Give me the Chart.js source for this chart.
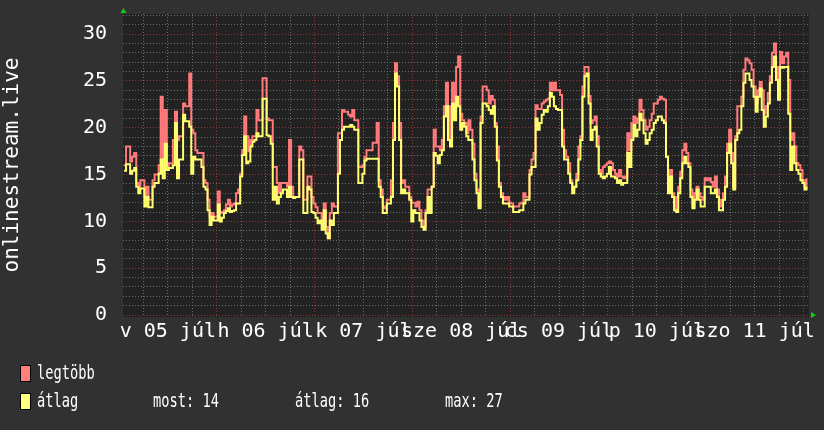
<!DOCTYPE html>
<html>
<head>
<meta charset="utf-8">
<script src="https://cdn.jsdelivr.net/npm/chart.js@4.4.1/dist/chart.umd.min.js"></script>
<style>
  html, body { margin: 0; padding: 0; background: #313131; }
  canvas { display: block; }
</style>
</head>
<body>
<canvas id="streamChart" width="824" height="430"></canvas>
<script>
// 30 perces minták, 2020 júl 05 01:15-től
const startHour = 1.25;
const stepHours = 0.5;

const maxValues = [
  16.0, 18.0, 18.0, 16.4, 16.9, 17.3, 14.1, 13.7, 14.4, 14.4,
  12.6, 13.7, 12.3, 12.3, 14.4, 15.0, 15.0, 16.0, 23.3, 16.6,
  21.9, 15.8, 16.2, 16.2, 18.7, 21.7, 18.7, 19.1, 19.1, 22.6,
  22.3, 22.3, 25.8, 19.8, 19.4, 17.6, 17.3, 17.3, 17.3, 14.4,
  14.1, 12.3, 10.5, 10.9, 10.5, 10.5, 13.2, 10.9, 11.0, 11.2,
  11.8, 12.3, 11.6, 11.8, 11.9, 13.0, 13.4, 15.1, 17.6, 21.2,
  19.1, 17.5, 18.7, 19.1, 19.1, 21.9, 20.8, 20.8, 25.3, 25.3,
  21.0, 20.8, 20.8, 15.8, 15.8, 14.1, 13.0, 14.1, 14.1, 14.1,
  13.7, 18.7, 13.7, 12.6, 12.6, 12.6, 18.0, 17.6, 12.3, 12.3,
  14.8, 14.8, 12.6, 11.9, 11.5, 10.9, 10.9, 10.1, 11.9, 9.4,
  8.2, 10.9, 11.9, 11.6, 11.6, 19.4, 19.4, 21.9, 21.7, 21.7,
  21.4, 21.2, 21.9, 20.8, 20.8, 15.8, 15.8, 16.0, 16.9, 17.6,
  17.6, 17.6, 18.4, 18.4, 20.5, 14.4, 13.4, 11.6, 11.4, 12.3,
  12.3, 14.4, 20.5, 26.9, 25.5, 20.5, 14.1, 14.4, 13.7, 13.7,
  12.6, 12.0, 12.0, 11.6, 12.1, 11.2, 10.1, 9.4, 11.2, 13.4,
  13.4, 13.7, 19.8, 18.0, 18.0, 17.6, 18.7, 22.3, 24.8, 22.3,
  18.7, 24.8, 21.9, 26.5, 27.6, 21.5, 20.8, 20.5, 19.4, 20.8,
  19.8, 18.3, 15.1, 13.4, 11.6, 21.2, 24.4, 24.4, 24.0, 22.6,
  23.4, 23.0, 20.5, 18.0, 14.1, 13.0, 12.6, 12.3, 12.6, 12.0,
  11.9, 11.6, 11.6, 11.6, 11.9, 12.0, 13.0, 12.6, 12.6, 15.5,
  16.6, 17.3, 22.4, 22.0, 22.0, 22.6, 22.8, 23.0, 23.1, 24.8,
  24.0, 24.8, 24.0, 24.0, 23.5, 19.8, 17.6, 16.9, 16.2, 14.4,
  13.4, 13.7, 15.1, 18.0, 19.1, 24.4, 26.5, 26.5, 23.4, 20.5,
  20.8, 21.2, 19.1, 15.5, 15.1, 15.8, 16.0, 16.2, 16.4, 16.2,
  15.5, 15.1, 14.8, 15.5, 14.8, 14.6, 14.8, 19.4, 17.6, 20.5,
  21.2, 20.5, 21.0, 23.0, 21.9, 20.8, 19.8, 20.1, 20.8, 21.5,
  22.6, 22.6, 23.0, 23.3, 23.1, 23.0, 16.9, 13.4, 15.5, 13.0,
  11.2, 12.6, 13.7, 15.3, 17.6, 18.3, 17.3, 16.2, 13.4, 11.6,
  13.0, 13.7, 13.0, 12.6, 12.3, 14.6, 14.4, 14.6, 14.2, 13.7,
  14.8, 13.4, 11.6, 12.3, 13.0, 14.8, 18.3, 19.8, 17.3, 13.7,
  19.1, 22.3, 22.3, 23.3, 26.2, 27.4, 27.2, 26.9, 26.2, 24.4,
  22.6, 24.0, 24.9, 24.0, 21.5, 22.3, 23.7, 25.5, 28.0, 29.0,
  26.5, 25.1, 28.1, 26.9, 27.6, 28.0, 25.1, 18.7, 19.4, 18.0,
  16.2, 16.0, 15.5, 14.4, 13.7, 14.6
];

const avgValues = [
  15.4, 16.1, 16.1, 15.1, 15.4, 15.7, 13.7, 13.0, 13.5, 13.5,
  11.6, 12.6, 11.5, 11.5, 13.7, 14.1, 14.1, 15.1, 16.6, 14.6,
  18.3, 15.5, 15.7, 15.7, 16.0, 20.5, 14.6, 16.6, 16.6, 21.4,
  20.7, 20.7, 20.1, 15.1, 16.9, 16.6, 16.6, 16.6, 15.8, 13.7,
  13.4, 11.2, 9.6, 10.5, 10.1, 10.1, 11.8, 10.0, 10.4, 10.9,
  11.1, 11.4, 11.0, 11.1, 11.2, 11.9, 11.9, 14.8, 17.1, 19.1,
  16.2, 16.4, 18.0, 18.5, 18.7, 19.4, 19.1, 19.1, 23.1, 23.1,
  19.2, 19.1, 18.3, 12.3, 13.7, 11.9, 12.6, 13.0, 13.4, 13.4,
  12.6, 13.7, 12.6, 12.5, 12.6, 12.6, 16.6, 16.6, 10.9, 10.9,
  13.7, 13.4, 11.0, 10.9, 10.4, 9.8, 10.1, 9.1, 11.2, 8.7,
  8.2, 10.1, 9.6, 10.9, 10.9, 15.1, 18.7, 19.8, 20.1, 20.1,
  20.1, 20.3, 20.1, 19.8, 19.8, 14.1, 14.1, 15.1, 16.5, 16.7,
  16.7, 16.7, 16.7, 16.7, 16.7, 13.7, 12.6, 10.9, 10.9, 11.9,
  11.9, 12.6, 18.7, 25.8, 24.4, 18.7, 13.0, 13.4, 13.0, 13.0,
  12.3, 10.0, 11.2, 10.9, 10.9, 10.1, 9.4, 9.1, 10.9, 12.6,
  10.9, 13.7, 17.3, 17.0, 16.2, 17.1, 17.6, 21.2, 22.3, 18.7,
  18.0, 22.6, 20.8, 23.3, 22.3, 19.8, 20.5, 20.1, 19.1, 18.7,
  18.7, 16.6, 14.4, 13.0, 11.4, 20.5, 22.6, 22.6, 22.3, 21.9,
  21.5, 22.3, 20.1, 16.5, 13.7, 12.6, 11.9, 11.9, 11.9, 11.6,
  11.6, 11.0, 11.0, 11.0, 11.2, 11.2, 11.9, 12.3, 12.3, 15.0,
  15.8, 15.8, 21.0, 19.8, 20.5, 21.4, 21.9, 21.7, 22.3, 23.7,
  23.3, 22.3, 22.0, 21.9, 21.9, 18.0, 16.6, 16.6, 15.1, 14.1,
  13.0, 13.7, 14.4, 16.6, 18.7, 23.3, 25.5, 25.8, 22.6, 18.7,
  19.8, 20.1, 18.0, 15.1, 14.8, 14.6, 14.8, 15.1, 15.8, 14.8,
  14.8, 14.6, 14.1, 14.4, 13.9, 14.1, 14.1, 17.3, 15.8, 18.7,
  20.3, 19.1, 19.8, 21.5, 20.8, 19.4, 18.3, 18.7, 19.4, 19.8,
  20.5, 20.8, 21.2, 21.2, 20.8, 20.5, 16.9, 13.0, 14.8, 12.6,
  11.2, 11.0, 13.0, 14.6, 16.2, 16.9, 16.2, 15.8, 12.6, 11.4,
  12.3, 13.4, 12.3, 11.6, 11.6, 13.7, 13.7, 13.7, 13.0, 13.0,
  13.4, 12.6, 11.2, 11.2, 12.3, 13.7, 17.3, 18.3, 16.2, 13.4,
  18.7, 19.4, 19.8, 22.3, 24.8, 25.8, 25.8, 25.1, 24.4, 23.3,
  21.7, 23.3, 24.2, 21.9, 20.1, 21.2, 22.6, 24.8, 26.5, 27.6,
  25.1, 23.0, 26.5, 26.4, 26.5, 26.5, 21.5, 15.5, 18.0, 16.2,
  15.5, 15.1, 14.4, 14.1, 13.4, 13.7
];

// napok címkéi (déli 12 órához igazítva)
const dayLabels = ['v 05 júl', 'h 06 júl', 'k 07 júl', 'sze 08 júl', 'cs 09 júl', 'p 10 júl', 'szo 11 júl'];
const xGridHours = [];
for (let h = 6; h <= 168; h += 6) xGridHours.push(h);
const yGridValues = [];
for (let v = 0; v <= 32; v++) yGridValues.push(v);

const legendRows = [
  { color: '#ff7f7f', label: 'legtöbb', stats: [] },
  { color: '#ffff7f', label: 'átlag', stats: ['most: 14', 'átlag: 16', 'max: 27'] }
];

const axisTitle = 'onlinestream.live';
const majorGrid = 'rgba(160, 55, 55, 0.9)';
const minorGrid = 'rgba(120, 120, 120, 0.85)';
const monoFont = 'DejaVu Sans Mono';

const toPoints = values => values.map((v, i) => ({ x: startHour + i * stepHours, y: v }));

const rrdLook = {
  id: 'rrdLook',
  beforeDraw(chart) {
    const { ctx, chartArea: a } = chart;
    ctx.save();
    ctx.fillStyle = '#313131';
    ctx.fillRect(0, 0, chart.width, chart.height);
    ctx.fillStyle = '#222222';
    ctx.fillRect(a.left, a.top, a.right - a.left, a.bottom - a.top + 2);
    ctx.restore();
  },
  afterDraw(chart) {
    const { ctx, chartArea: a } = chart;
    ctx.save();
    // nyilak
    ctx.fillStyle = '#11cc11';
    ctx.beginPath();
    ctx.moveTo(a.left + 0.5, a.top - 6);
    ctx.lineTo(a.left - 2.5, a.top - 1);
    ctx.lineTo(a.left + 3.5, a.top - 1);
    ctx.fill();
    ctx.beginPath();
    ctx.moveTo(a.right + 7, a.bottom);
    ctx.lineTo(a.right + 2, a.bottom - 3);
    ctx.lineTo(a.right + 2, a.bottom + 3);
    ctx.fill();

    // függőleges tengelycím
    ctx.fillStyle = '#ffffff';
    ctx.font = '21px "' + monoFont + '"';
    ctx.textAlign = 'center';
    ctx.textBaseline = 'alphabetic';
    ctx.translate(18, 165);
    ctx.rotate(-Math.PI / 2);
    ctx.fillText(axisTitle, 0, 0);
    ctx.restore();

    // jelmagyarázat
    ctx.save();
    ctx.font = '19px "' + monoFont + '"';
    ctx.textBaseline = 'alphabetic';
    ctx.textAlign = 'left';
    const statX = [153, 295, 445];
    const squeeze = 0.72;
    legendRows.forEach((row, i) => {
      const top = 365 + i * 28;
      ctx.fillStyle = row.color;
      ctx.fillRect(20, top, 10, 16);
      ctx.strokeStyle = '#000';
      ctx.lineWidth = 1;
      ctx.strokeRect(20.5, top + 0.5, 10, 16);
      ctx.fillStyle = '#ffffff';
      const base = top + 13.5;
      ctx.save();
      ctx.scale(squeeze, 1);
      ctx.fillText(row.label, 37 / squeeze, base);
      row.stats.forEach((s, j) => ctx.fillText(s, statX[j] / squeeze, base));
      ctx.restore();
    });
    ctx.restore();
  }
};

new Chart(document.getElementById('streamChart'), {
  type: 'line',
  data: {
    datasets: [
      {
        label: 'legtöbb',
        data: toPoints(maxValues),
        borderColor: '#ff7a7a',
        borderWidth: 2,
        pointRadius: 0,
        stepped: true,
        order: 2
      },
      {
        label: 'átlag',
        data: toPoints(avgValues),
        borderColor: '#ffff70',
        borderWidth: 2,
        pointRadius: 0,
        stepped: true,
        order: 1
      }
    ]
  },
  options: {
    responsive: false,
    animation: false,
    layout: { autoPadding: false, padding: { left: 0, right: 15, top: 14, bottom: 0 } },
    plugins: {
      legend: { display: false },
      tooltip: { enabled: false }
    },
    scales: {
      x: {
        type: 'linear',
        min: 1.0,
        max: 169.35,
        afterBuildTicks: s => { s.ticks = xGridHours.map(v => ({ value: v })); },
        afterFit: s => { s.height = 115; },
        grid: {
          color: c => (c.tick && c.tick.value % 24 === 0 ? majorGrid : minorGrid),
          drawTicks: false
        },
        border: { display: false, dash: [1, 2] },
        ticks: {
          autoSkip: false,
          maxRotation: 0,
          padding: 5,
          color: '#ffffff',
          font: { family: monoFont, size: 20 },
          callback: v => (v % 24 === 12 ? dayLabels[(v - 12) / 24] : '')
        }
      },
      y: {
        min: 0,
        max: 32.15,
        afterBuildTicks: s => { s.ticks = yGridValues.map(v => ({ value: v })); },
        afterFit: s => { s.width = 123; s.paddingTop = 0; s.paddingBottom = 0; },
        grid: {
          color: c => (c.tick && c.tick.value % 5 === 0 ? majorGrid : minorGrid),
          drawTicks: false
        },
        border: { display: false, dash: [1, 2] },
        ticks: {
          autoSkip: false,
          padding: 16,
          color: '#ffffff',
          font: { family: monoFont, size: 20 },
          callback: v => (v % 5 === 0 ? String(v) : '')
        }
      }
    }
  },
  plugins: [rrdLook]
});
</script>
</body>
</html>
